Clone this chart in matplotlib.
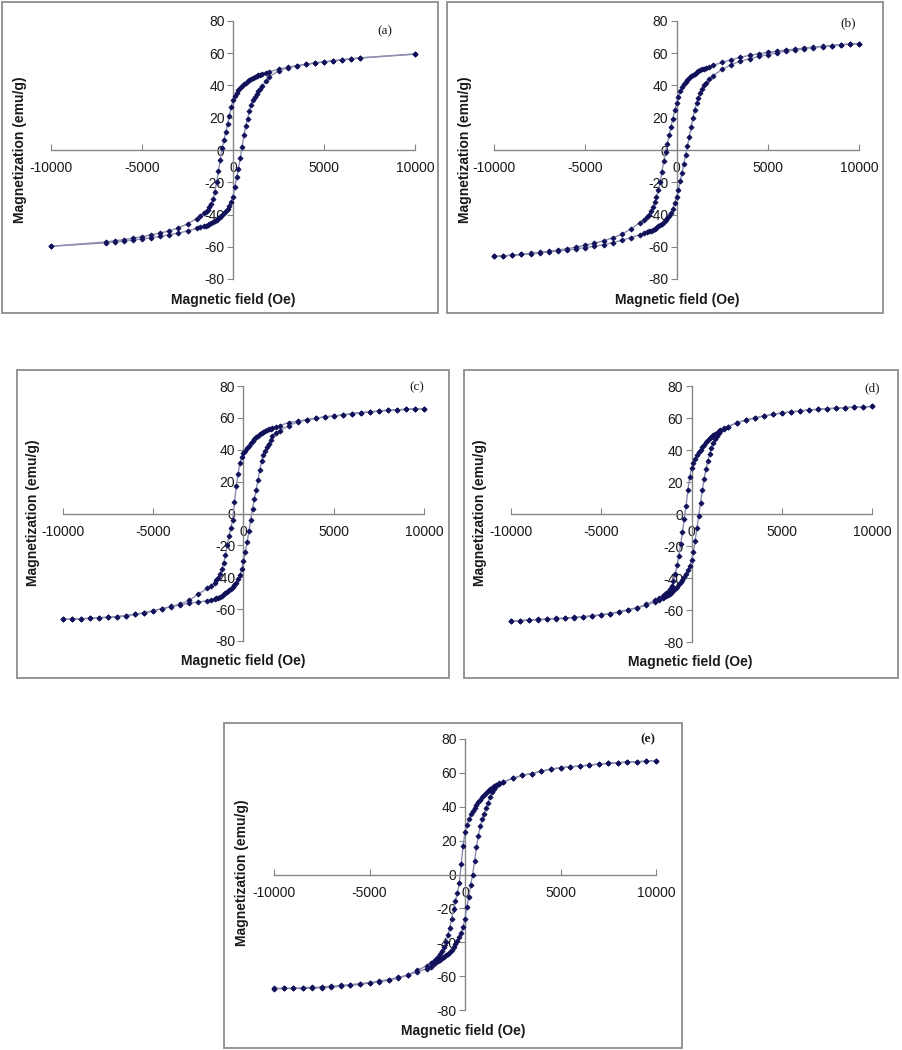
import matplotlib.pyplot as plt
from matplotlib.patches import Rectangle

plt.rcParams['font.family'] = ['Liberation Sans', 'DejaVu Sans']
plt.rcParams['axes.unicode_minus'] = False

# ==================================================
# DATA (field in Oe, magnetization in emu/g)
# ==================================================

# common field steps of the descending branch (+10000 -> -10000)
field_steps = [10000, 9500, 9000, 8500, 8000, 7500, 7000, 6500, 6000, 5500,
               5000, 4500, 4000, 3500, 3000, 2500, 2000, 1800, 1600,
               1500, 1400, 1300, 1200, 1100, 1000, 900, 800, 700, 600, 500,
               400, 300, 200, 100, 0, -100, -200, -300, -400, -500,
               -600, -700, -800, -900, -1000, -1100, -1200, -1300, -1400, -1500,
               -1600, -1800, -2000, -2500, -3000, -3500, -4000, -4500, -5000,
               -5500, -6000, -6500, -7000, -7500, -8000, -8500, -9000, -9500, -10000]

# sample (a) was measured with fewer high-field points
field_steps_a = [10000, 7000, 6500, 6000, 5500, 5000, 4500, 4000, 3500, 3000,
                 2500, 2000, 1800, 1600,
                 1500, 1400, 1300, 1200, 1100, 1000, 900, 800, 700, 600, 500,
                 400, 300, 200, 100, 0, -100, -200, -300, -400, -500,
                 -600, -700, -800, -900, -1000, -1100, -1200, -1300, -1400, -1500,
                 -1600, -1800, -2000, -2500, -3000, -3500, -4000, -4500, -5000,
                 -5500, -6000, -6500, -7000, -10000]

# descending branch (order of field steps), ascending branch (reverse order)
a_desc = [59.5, 57.2, 56.6, 56, 55.4, 54.7, 54, 53.2, 52.3, 51.3, 50, 48.6,
          48, 47.2,
          46.8, 46.3, 45.8, 45.2, 44.6, 44, 43.3, 42.5, 41.7, 40.8, 39.8,
          38.6, 37.2, 35.5, 33.5, 31, 26.5, 21, 16, 11, 6,
          1, -6, -13, -20, -26, -30.5, -33.5, -35.5, -37, -38.3,
          -39.3, -41,
          -42.5, -45.8, -48.3, -50.1, -51.5, -52.7, -53.7, -54.7, -55.6, -56.3, -57,
          -59.7]
a_asc = [-59.7,
         -57.6, -57, -56.4, -55.8, -55.1, -54.4, -53.6, -52.6, -51.5, -50.2, -48.6,
         -48, -47.3,
         -46.9, -46.4, -45.9, -45.3, -44.7, -44, -43.2, -42.4, -41.5, -40.5, -39.3,
         -38, -36.4, -34.5, -32, -29, -23, -17, -11.5, -5, 2,
         9, 15, 19.5, 24, 28, 31, 33, 35, 36.5, 38,
         39.5, 42.5,
         45.5, 49, 51, 52.2, 53.1, 53.9, 54.6, 55.3, 55.9, 56.5, 57,
         59.5]

b_desc = [66, 65.7, 65.3, 64.8, 64.3, 63.8, 63.2, 62.6, 62, 61.3, 60.5, 59.7,
          58.7, 57.5, 56, 54.3, 52.5,
          51.7, 51,
          50.5, 50, 49.4, 48.8, 48.1, 47.4, 46.6, 45.7, 44.7, 43.5, 42.2,
          40.7, 38.8, 36.5, 33, 29, 24.5, 19.5, 14.5, 9, 4,
          -1, -7, -13.5, -20, -25, -29, -32.5, -35.5, -38, -40,
          -41.5, -43.5,
          -45, -49, -52.3, -54.5, -56.3, -57.8, -59, -60.2, -61.2, -62, -62.8,
          -63.5, -64.1, -64.7, -65.2, -65.6, -66]
b_asc = [-66, -65.7, -65.3, -64.8, -64.3, -63.8, -63.2, -62.6, -62, -61.3, -60.5,
         -59.7, -58.7, -57.5, -56, -54.3, -52.5,
         -51.7, -51,
         -50.5, -50, -49.4, -48.8, -48.1, -47.4, -46.6, -45.7, -44.7, -43.5, -42.2,
         -40.7, -38.8, -36.5, -33, -29, -24.5, -19.5, -14, -8.5, -3,
         2.5, 8, 14, 20, 25, 29, 32.5, 35.5, 38, 40,
         41.5, 44,
         46, 50, 53, 55, 56.6, 58, 59.2, 60.3, 61.3, 62, 62.8, 63.5, 64.1, 64.7,
         65.2, 65.6, 66]

c_desc = [65.8, 65.6, 65.4, 65, 64.8, 64.3, 63.7, 63.3, 62.7, 61.8, 61.2, 60.6,
          59.8, 58.8, 58, 57, 55.2,
          54.4, 53.6,
          53.2, 52.8, 52.4, 51.9, 51.3, 50.6, 49.8, 48.8, 47.7, 46.5, 45.3,
          44, 42.5, 41, 39.5, 38, 35.5, 31.5, 25, 17, 7,
          -4, -9, -14, -20, -26, -31, -35, -38, -40.5, -42,
          -43.5, -45.3,
          -47, -50.5, -54.5, -56.8, -58.3, -59.7, -61, -62.3, -63.3, -64, -64.7,
          -65.1, -65.4, -65.8, -66, -66.3, -66.5]
c_asc = [-66.5, -66.3, -66, -65.8, -65.4, -65.1, -64.7, -64, -63.3, -62.3, -61,
         -59.7, -58.5, -57.3, -56.3, -55.5, -54.8,
         -54.3, -53.7,
         -53.3, -52.8, -52.2, -51.6, -50.8, -50, -49.2, -48.3, -47.3, -46.2, -45,
         -43.3, -41.3, -38.5, -35, -30, -24, -18, -11, -4, 3,
         9, 15, 21, 27, 33, 37, 39.5, 41.5, 43.5, 46,
         48.5, 50.5,
         52, 55, 57.5, 58.7, 59.8, 60.6, 61.2, 61.8, 62.7, 63.3, 63.7, 64.3,
         64.8, 65, 65.4, 65.6, 65.8]

d_desc = [67.2, 67, 66.8, 66.5, 66.2, 65.8, 65.4, 65, 64.4, 63.8, 63.1, 62.3,
          61.3, 60, 58.7, 57, 54.5,
          53.5, 52.3,
          51.6, 50.8, 50, 49.1, 48.2, 47.2, 46, 44.8, 43.4, 41.9, 40.2,
          38.5, 36.6, 34.5, 32, 29, 23, 15, 5, -3, -11,
          -19, -26, -32, -37.5, -42, -45, -47, -48.5, -49.6, -50.5,
          -51.3, -52.5,
          -53.7, -56.5, -58.5, -59.8, -61, -62.2, -63, -63.7, -64.3, -64.8, -65.2,
          -65.5, -65.8, -66.1, -66.4, -66.7, -67]
d_asc = [-67, -66.6, -66.2, -65.9, -65.6, -65.3, -65, -64.6, -64.1, -63.6, -63,
         -62.3, -61.3, -60, -58.7, -57, -54.8,
         -53.5, -52.4,
         -51.8, -51.2, -50.5, -49.7, -48.8, -47.8, -46.7, -45.5, -44, -42.5, -41,
         -39.3, -37.3, -35, -32.3, -29, -24, -17, -9, -1, 7,
         15, 22, 28, 33, 37.5, 41.5, 44.5, 47, 49, 50.5,
         51.7, 53.3,
         54.5, 57, 58.7, 60, 61.3, 62.3, 63.1, 63.8, 64.4, 65, 65.4, 65.8, 66.2,
         66.5, 66.8, 67, 67.2]

e_desc = [67.3, 66.9, 66.6, 66.4, 66, 65.6, 65.2, 64.6, 64, 63.6, 63, 62.2,
          61, 59.6, 58.6, 56.7, 54.7,
          53.8, 52.8,
          52.1, 51.3, 50.4, 49.4, 48.2, 47, 45.6, 44.2, 42.8, 41.3, 39.5,
          37.5, 35.5, 32.5, 29, 25, 17, 6, -5, -11, -15.5,
          -20.5, -26, -31.5, -36, -40, -43, -45.2, -47, -48.7, -50,
          -51.2, -52.5,
          -54, -56.5, -59.4, -61.2, -62.4, -63.4, -64.1, -64.9, -65.4, -66, -66.5,
          -66.9, -67.1, -67.3, -67.3, -67.3, -67.4]
e_asc = [-67.3, -67.2, -67.1, -66.9, -66.7, -66.4, -66, -65.5, -65, -64.4, -63.8,
         -63, -62, -60.8, -59.4, -57.5, -55.5,
         -54.6, -52.8,
         -51.7, -51, -50.2, -49.4, -48.6, -47.7, -46.7, -45.7, -44.3, -42.8, -41.3,
         -39.5, -37, -34.5, -31, -26, -19, -13, -6, 0, 8,
         16, 23, 28.5, 32.5, 36, 39.5, 42.5, 45.5, 48.5, 50.5,
         52, 53.5,
         54.7, 56.7, 58.6, 59.6, 61, 62.2, 63, 63.6, 64, 64.6, 65.2, 65.6, 66,
         66.4, 66.6, 66.9, 67.3]

panel_letters = ['(a)', '(b)', '(c)', '(d)', '(e)']
x_ticks = [-10000, -5000, 0, 5000, 10000]
y_ticks = [-80, -60, -40, -20, 0, 20, 40, 60, 80]

# ==================================================
# LAYOUT (pixels in a 902 x 1050 picture)
# ==================================================

W, H = 902, 1050
# box, axes area (x0, y0, x1, y1), y-label centre, x-label centre, letter
layout = [
    ((2, 2, 438, 313), (51, 21, 415, 279), (20, 150), (233, 300), (385, 31)),
    ((447, 2, 883, 313), (494, 21, 859, 279), (465, 150), (677, 300), (848, 23)),
    ((17, 370, 449, 678), (63, 386, 424, 641), (33, 513), (243, 661), (417, 387)),
    ((464, 370, 898, 678), (511, 386, 872, 642), (480, 513), (690, 662), (872, 388)),
    ((224, 723, 682, 1048), (274, 739, 656, 1010), (242, 873), (463, 1031), (648, 739)),
]

curves = [
    (field_steps_a, a_desc, a_asc),
    (field_steps, b_desc, b_asc),
    (field_steps, c_desc, c_asc),
    (field_steps, d_desc, d_asc),
    (field_steps, e_desc, e_asc),
]

fig = plt.figure(figsize=(W / 100, H / 100), dpi=100)

axis_gray = '#868686'
line_col = '#8e8eb0'
marker_col = '#10105a'

for i in range(5):
    box, area, ylab, xlab, let = layout[i]
    fields, m_desc, m_asc = curves[i]

    fig.add_artist(Rectangle((box[0] / W, 1 - box[3] / H),
                             (box[2] - box[0]) / W, (box[3] - box[1]) / H,
                             transform=fig.transFigure, fill=False,
                             ec='#8c8c8c', lw=1.3))

    ax = fig.add_axes([area[0] / W, 1 - area[3] / H,
                       (area[2] - area[0]) / W, (area[3] - area[1]) / H])
    ax.patch.set_alpha(0)

    ax.plot(fields, m_desc, color=line_col, lw=1.0, marker='D', ms=2.6,
            mfc=marker_col, mec=marker_col, mew=0.6, zorder=3, clip_on=False)
    ax.plot(fields[::-1], m_asc, color=line_col, lw=1.0, marker='D', ms=2.6,
            mfc=marker_col, mec=marker_col, mew=0.6, zorder=3, clip_on=False)

    ax.set_xlim(-10000, 10000)
    ax.set_ylim(-80, 80)
    ax.spines['left'].set_position(('data', 0))
    ax.spines['bottom'].set_position(('data', 0))
    ax.spines['top'].set_visible(False)
    ax.spines['right'].set_visible(False)
    for s in ['left', 'bottom']:
        ax.spines[s].set_color(axis_gray)
        ax.spines[s].set_linewidth(1.0)
    ax.set_xticks(x_ticks)
    ax.set_yticks(y_ticks)
    ax.tick_params(axis='x', direction='in', length=4, pad=8, labelsize=10,
                   color=axis_gray, labelcolor='#1a1a1a')
    ax.tick_params(axis='y', direction='out', length=4, pad=2, labelsize=10,
                   color=axis_gray, labelcolor='#1a1a1a')

    fig.text(ylab[0] / W, 1 - ylab[1] / H, 'Magnetization (emu/g)', rotation=90,
             ha='center', va='center', fontsize=10, fontweight='bold', color='#1a1a1a')
    fig.text(xlab[0] / W, 1 - xlab[1] / H, 'Magnetic field (Oe)',
             ha='center', va='center', fontsize=10, fontweight='bold', color='#1a1a1a')
    fig.text(let[0] / W, 1 - let[1] / H, panel_letters[i], ha='center', va='center',
             fontsize=9.5, family='Liberation Serif',
             fontweight='bold' if i == 4 else 'normal', color='#1a1a1a')

fig.savefig('out.png', dpi=100)
